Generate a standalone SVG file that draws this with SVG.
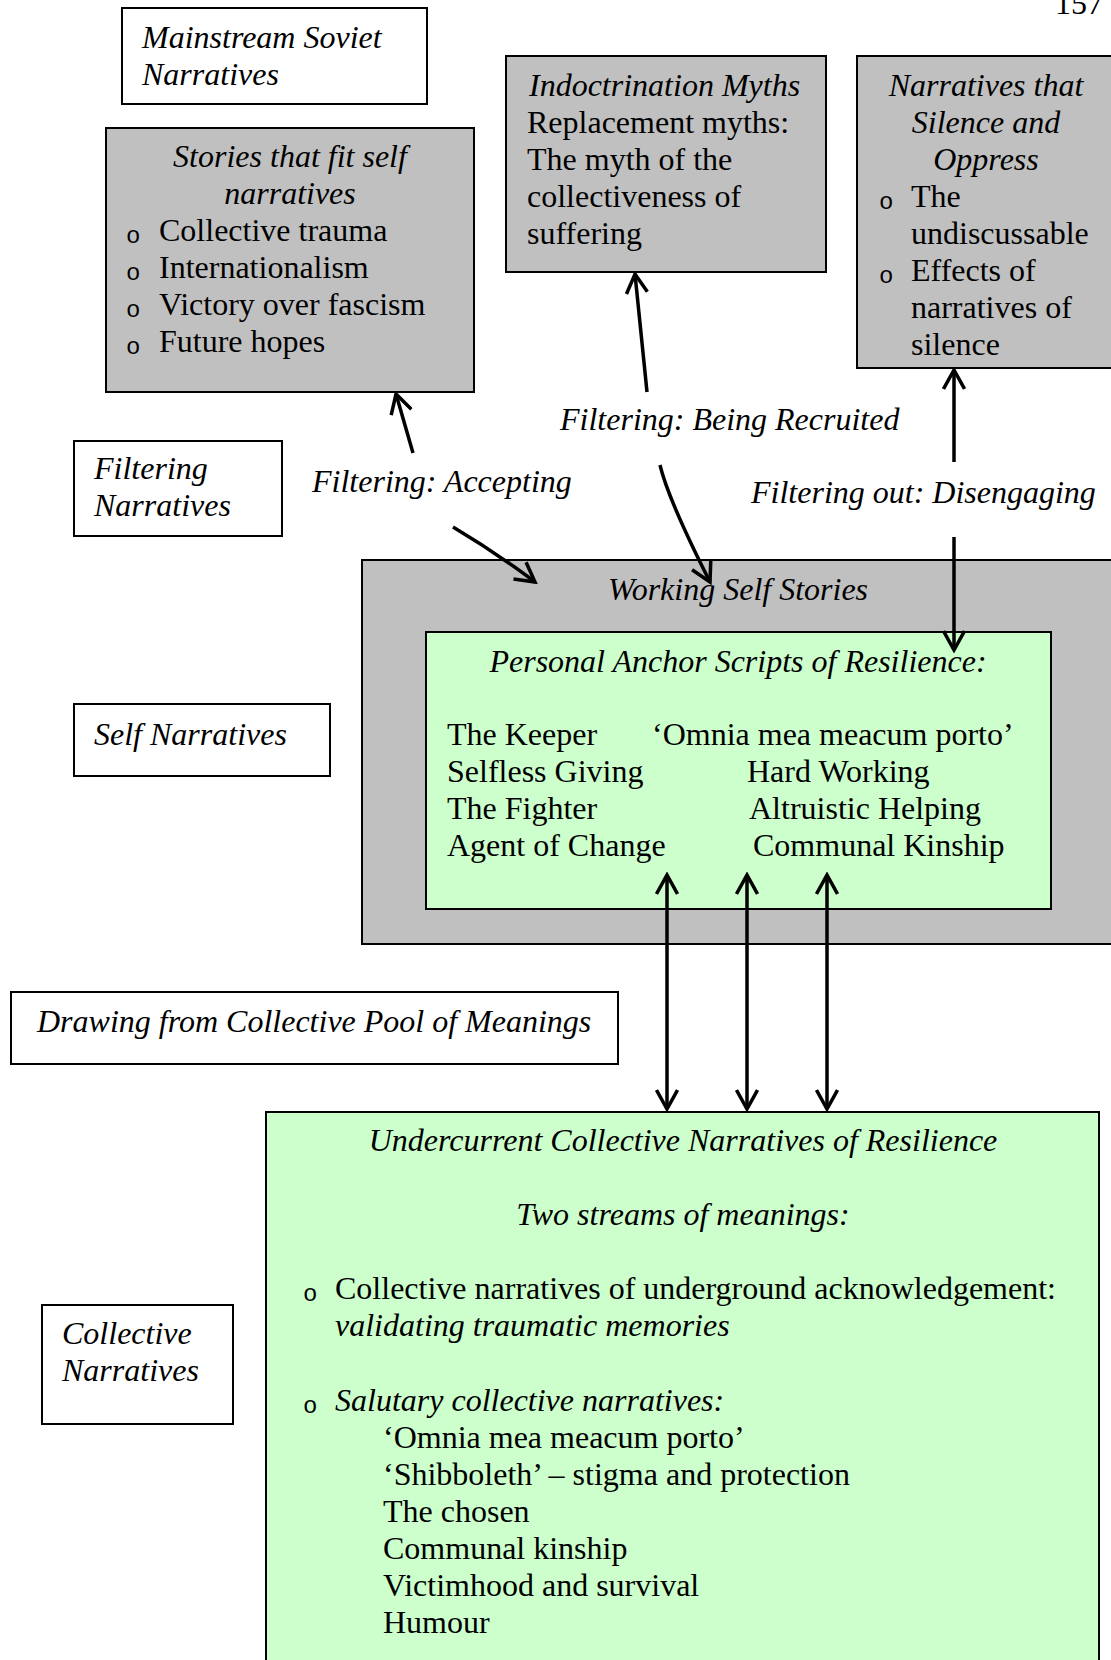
<svg xmlns="http://www.w3.org/2000/svg" width="1111" height="1660" viewBox="0 0 1111 1660">
<style>
text{font-family:"Liberation Serif","Times New Roman",serif;font-size:32px;fill:#000}
.i{font-style:italic}
.c{text-anchor:middle}
.b{font-family:"Liberation Mono","Courier New",monospace;font-size:24px}
.box{stroke:#000;stroke-width:2}
.w{fill:#fff}
.g{fill:#c0c0c0}
.gr{fill:#ccffcc}
.ln{fill:none;stroke:#000;stroke-width:3.5}
</style>
<defs>
<marker id="arr" viewBox="0 0 24 24" refX="21" refY="12" markerWidth="24" markerHeight="24" markerUnits="userSpaceOnUse" orient="auto-start-reverse">
<path d="M2,1.5 L21,12 L2,22.5" fill="none" stroke="#000" stroke-width="3.5"/>
</marker>
</defs>
<rect width="1111" height="1660" fill="#fff"/>
<text x="1055" y="14">157</text>

<g id="mainstream">
<rect class="box w" x="122" y="8" width="305" height="96"/>
<text class="i" x="142" y="48">Mainstream Soviet</text>
<text class="i" x="142" y="85">Narratives</text>
</g>

<g id="stories">
<rect class="box g" x="106" y="128" width="368" height="264"/>
<text class="i c" x="290" y="167">Stories that fit self</text>
<text class="i c" x="290" y="204">narratives</text>
<text class="b" x="126" y="243">o</text><text x="159" y="241">Collective trauma</text>
<text class="b" x="126" y="280">o</text><text x="159" y="278">Internationalism</text>
<text class="b" x="126" y="317">o</text><text x="159" y="315">Victory over fascism</text>
<text class="b" x="126" y="354">o</text><text x="159" y="352">Future hopes</text>
</g>

<g id="indoctrination">
<rect class="box g" x="506" y="56" width="320" height="216"/>
<text class="i" x="529" y="96">Indoctrination Myths</text>
<text x="527" y="133">Replacement myths:</text>
<text x="527" y="170">The myth of the</text>
<text x="527" y="207">collectiveness of</text>
<text x="527" y="244">suffering</text>
</g>

<g id="silence">
<rect class="box g" x="857" y="56" width="260" height="312"/>
<text class="i c" x="986" y="96">Narratives that</text>
<text class="i c" x="986" y="133">Silence and</text>
<text class="i c" x="986" y="170">Oppress</text>
<text class="b" x="879" y="209">o</text><text x="911" y="207">The</text>
<text x="911" y="244">undiscussable</text>
<text class="b" x="879" y="283">o</text><text x="911" y="281">Effects of</text>
<text x="911" y="318">narratives of</text>
<text x="911" y="355">silence</text>
</g>

<g id="filtering">
<rect class="box w" x="74" y="441" width="208" height="95"/>
<text class="i" x="94" y="479">Filtering</text>
<text class="i" x="94" y="516">Narratives</text>
</g>

<g id="working-self">
<rect class="box g" x="362" y="560" width="800" height="384"/>
<text class="i c" x="738" y="600">Working Self Stories</text>
</g>

<g id="anchor">
<rect class="box gr" x="426" y="632" width="625" height="277"/>
<text class="i c" x="738" y="672">Personal Anchor Scripts of Resilience:</text>
<text x="447" y="745">The Keeper</text>
<text x="652" y="745">‘Omnia mea meacum porto’</text>
<text x="447" y="782">Selfless Giving</text>
<text x="747" y="782">Hard Working</text>
<text x="447" y="819">The Fighter</text>
<text x="749" y="819">Altruistic Helping</text>
<text x="447" y="856">Agent of Change</text>
<text x="753" y="856">Communal Kinship</text>
</g>

<g id="self-narratives">
<rect class="box w" x="74" y="704" width="256" height="72"/>
<text class="i" x="94" y="745">Self Narratives</text>
</g>

<g id="drawing">
<rect class="box w" x="11" y="992" width="607" height="72"/>
<text class="i" x="37" y="1032">Drawing from Collective Pool of Meanings</text>
</g>

<g id="collective">
<rect class="box w" x="42" y="1305" width="191" height="119"/>
<text class="i" x="62" y="1344">Collective</text>
<text class="i" x="62" y="1381">Narratives</text>
</g>

<g id="undercurrent">
<rect class="box gr" x="266" y="1112" width="833" height="560"/>
<text class="i c" x="683" y="1151">Undercurrent Collective Narratives of Resilience</text>
<text class="i c" x="683" y="1225">Two streams of meanings:</text>
<text class="b" x="303" y="1301">o</text><text x="335" y="1299">Collective narratives of underground acknowledgement:</text>
<text class="i" x="335" y="1336">validating traumatic memories</text>
<text class="b" x="303" y="1413">o</text><text class="i" x="335" y="1411">Salutary collective narratives:</text>
<text x="383" y="1448">‘Omnia mea meacum porto’</text>
<text x="383" y="1485">‘Shibboleth’ – stigma and protection</text>
<text x="383" y="1522">The chosen</text>
<text x="383" y="1559">Communal kinship</text>
<text x="383" y="1596">Victimhood and survival</text>
<text x="383" y="1633">Humour</text>
</g>

<g id="labels">
<text class="i" x="312" y="492">Filtering: Accepting</text>
<text class="i" x="560" y="430">Filtering: Being Recruited</text>
<text class="i" x="751" y="503">Filtering out: Disengaging</text>
</g>

<g id="connectors">
<path class="ln" d="M413,453 L396,394" marker-end="url(#arr)"/>
<path class="ln" d="M453,527 Q495,552 535,582" marker-end="url(#arr)"/>
<path class="ln" d="M647,392 L635,274" marker-end="url(#arr)"/>
<path class="ln" d="M660,465 Q668,499 710,582" marker-end="url(#arr)"/>
<path class="ln" d="M954,462 L954,370" marker-end="url(#arr)"/>
<path class="ln" d="M954,537 L954,650" marker-end="url(#arr)"/>
<path class="ln" d="M667,875 L667,1109" marker-start="url(#arr)" marker-end="url(#arr)"/>
<path class="ln" d="M747,875 L747,1109" marker-start="url(#arr)" marker-end="url(#arr)"/>
<path class="ln" d="M827,875 L827,1109" marker-start="url(#arr)" marker-end="url(#arr)"/>
</g>
</svg>
